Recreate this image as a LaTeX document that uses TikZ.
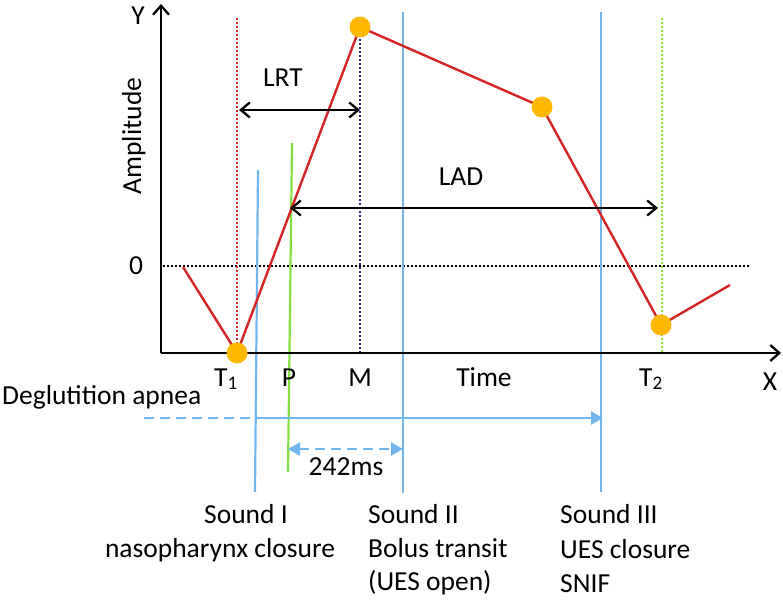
\documentclass[tikz,border=0pt]{standalone}
\usepackage{fontspec}
\setmainfont{Carlito}
\usetikzlibrary{arrows.meta}
\definecolor{redc}{HTML}{D42424}
\definecolor{dotc}{HTML}{FFB800}
\definecolor{bluec}{HTML}{72B6EE}
\definecolor{greenc}{HTML}{84E040}
\definecolor{navyc}{HTML}{24248C}
\begin{document}
\begin{tikzpicture}[x=1pt,y=-1pt,
 lbl/.style={font=\fontsize{27.5}{34}\selectfont, inner sep=0pt, anchor=base},
 lblw/.style={lbl, anchor=base west},
 ptdot/.style={circle, fill=dotc, minimum size=21pt, inner sep=0pt},
 curve/.style={redc, line width=2.4pt, line join=round},
 soundline/.style={bluec, line width=2.2pt},
 dotline/.style={line width=2.3pt, dash pattern=on 2pt off 2pt},
 dimline/.style={line width=2.3pt, {Straight Barb[length=9pt,width=15pt]}-{Straight Barb[length=9pt,width=15pt]}},
 axisline/.style={line width=2.3pt, -{Straight Barb[length=9pt,width=16pt]}},
 blueline/.style={bluec, line width=2.2pt},
 bluedash/.style={blueline, dash pattern=on 10pt off 6pt}
]
\useasboundingbox (0,0) rectangle (783,601);
% coordinates
\coordinate (O) at (161,353);
\coordinate (Ytip) at (161,4);
\coordinate (Xtip) at (781,353);
\coordinate (z0) at (163,266);
\coordinate (z1) at (750,266);
\coordinate (c0) at (183,267);
\coordinate (c5) at (730,285);
% dot positions
\coordinate (t1) at (237,353);
\coordinate (pk) at (360,27);
\coordinate (d3) at (542,107);
\coordinate (t2) at (661,325);
% vertical dotted guides
\coordinate (rtop) at (237,18);
\coordinate (gtop) at (662,18);
\coordinate (gbot) at (662,353);
\coordinate (mbot) at (360,353);
\draw[dotline, black] (z0) -- (z1);
\draw[dotline, redc] (rtop) -- (t1);
\draw[dotline, navyc] (pk) -- (mbot);
\draw[dotline, greenc] (gtop) -- (gbot);
% sound lines
\coordinate (s1t) at (258,170); \coordinate (s1b) at (255,492);
\coordinate (s2t) at (403,12);  \coordinate (s2b) at (403,493);
\coordinate (s3t) at (601,12);  \coordinate (s3b) at (601,492);
\draw[soundline] (s1t) -- (s1b);
\draw[soundline] (s2t) -- (s2b);
\draw[soundline] (s3t) -- (s3b);
% green P line
\coordinate (pt) at (292,143); \coordinate (pb) at (288,472);
\draw[greenc, line width=2.2pt] (pt) -- (pb);
% axes
\draw[axisline] (O) -- (Ytip);
\draw[axisline] (O) -- (Xtip);
% red curve
\draw[curve] (c0) -- (t1) -- (pk) -- (d3) -- (t2) -- (c5);
\node[ptdot] (t1dot) at (t1) {};
\node[ptdot] (pkdot) at (pk) {};
\node[ptdot] (d3dot) at (d3) {};
\node[ptdot] (t2dot) at (t2) {};
% LRT and LAD
\coordinate (lrt0) at (239,110); \coordinate (lrt1) at (360,110);
\draw[dimline] (lrt0) -- (lrt1);
\coordinate (lad0) at (290,208); \coordinate (lad1) at (658,208);
\draw[dimline] (lad0) -- (lad1);
\node[lbl] (lrt) at (283,87) {LRT};
\node[lbl] (lad) at (461,186) {LAD};
% apnea
\coordinate (ap0) at (144,418); \coordinate (ap1) at (256,418); \coordinate (ap2) at (603,418);
\draw[bluedash] (ap0) -- (ap1);
\draw[blueline, -{Triangle[length=12pt,width=13pt]}] (ap1) -- (ap2);
\coordinate (ms0) at (288,449); \coordinate (ms1) at (403,449);
\draw[bluedash, {Triangle[length=12pt,width=13pt]}-{Triangle[length=12pt,width=13pt]}] (ms0) -- (ms1);
% labels
\node[lbl] (ylab) at (138,25) {Y};
\node[lbl, rotate=90] (amp) at (141,136) {Amplitude};
\node[lbl] (zero) at (136,274) {0};
\node[lbl] (xlab) at (770,390) {X};
\node[lbl] (t1lab) at (226,386) {T\textsubscript{1}};
\node[lbl] (plab) at (289,386) {P};
\node[lbl] (mlab) at (360,386) {M};
\node[lbl] (timelab) at (484,386) {Time};
\node[lbl] (t2lab) at (651,386) {T\textsubscript{2}};
\node[lblw] (apnea) at (2,404) {Deglutition apnea};
\node[lbl] (ms) at (346,475) {242ms};
\node[lbl] (snd1a) at (246,523) {Sound I};
\node[lbl] (snd1b) at (220,557) {nasopharynx closure};
\node[lblw] (snd2a) at (368,523) {Sound II};
\node[lblw] (snd2b) at (368,557) {Bolus transit};
\node[lblw] (snd2c) at (368,590) {(UES open)};
\node[lblw] (snd3a) at (560,523) {Sound III};
\node[lblw] (snd3b) at (560,558) {UES closure};
\node[lblw] (snd3c) at (560,592) {SNIF};
\end{tikzpicture}
\end{document}
